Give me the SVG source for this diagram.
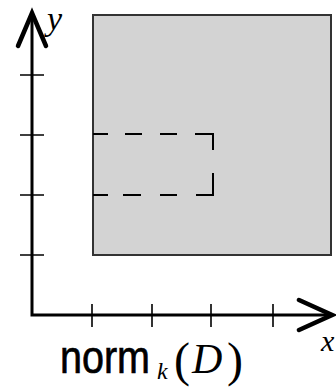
<svg xmlns="http://www.w3.org/2000/svg" width="336" height="387" viewBox="0 0 336 387">
<style>
.axis{stroke:#000;stroke-width:3;fill:none;stroke-linecap:butt}
.head{stroke:#000;stroke-width:4.5;fill:none;stroke-linejoin:miter;stroke-linecap:round}
.tick{stroke:#000;stroke-width:1.6}
.dash{stroke:#000;stroke-width:2;fill:none}
.it{font-family:"Liberation Serif","Times New Roman",serif;font-style:italic}
.rm{font-family:"Liberation Serif","Times New Roman",serif}
</style>
<rect width="336" height="387" fill="#fff"/>
<g id="domain">
<rect x="93" y="15" width="238" height="240" fill="#d3d3d3" stroke="#333" stroke-width="2"/>
</g>
<g id="subregion">
<path class="dash" d="M93,134H108M125,134H142M160,134H177M195,134H213V150M213,173V195H196M177,195H160M141,195H123M108,195H93"/>
</g>
<g id="connectors">
<path class="axis" d="M32,14V315H331"/>
<path class="head" d="M18,46L32,13L46,46"/>
<path class="head" d="M299,300L332,315L299,330"/>
<path class="tick" d="M20,75H44M20,135H44M20,195H44M20,255H44M92,304V327M152,304V327M211,304V327M273,304V327"/>
</g>
<g id="labels">
<text class="it" x="47" y="30" font-size="34">y</text>
<text class="it" x="321" y="351" font-size="30">x</text>
<text transform="translate(60,373) scale(1,1.18)" font-family="Liberation Sans, Arial, sans-serif" font-size="39" textLength="90" lengthAdjust="spacingAndGlyphs" stroke="#000" stroke-width="0.6">norm</text>
<text class="it" x="157" y="379" font-size="24">k</text>
<text class="rm" x="174" y="376" font-size="48">(</text>
<text class="it" x="192" y="373" font-size="42">D</text>
<text class="rm" x="227" y="376" font-size="48">)</text>
</g>
</svg>
